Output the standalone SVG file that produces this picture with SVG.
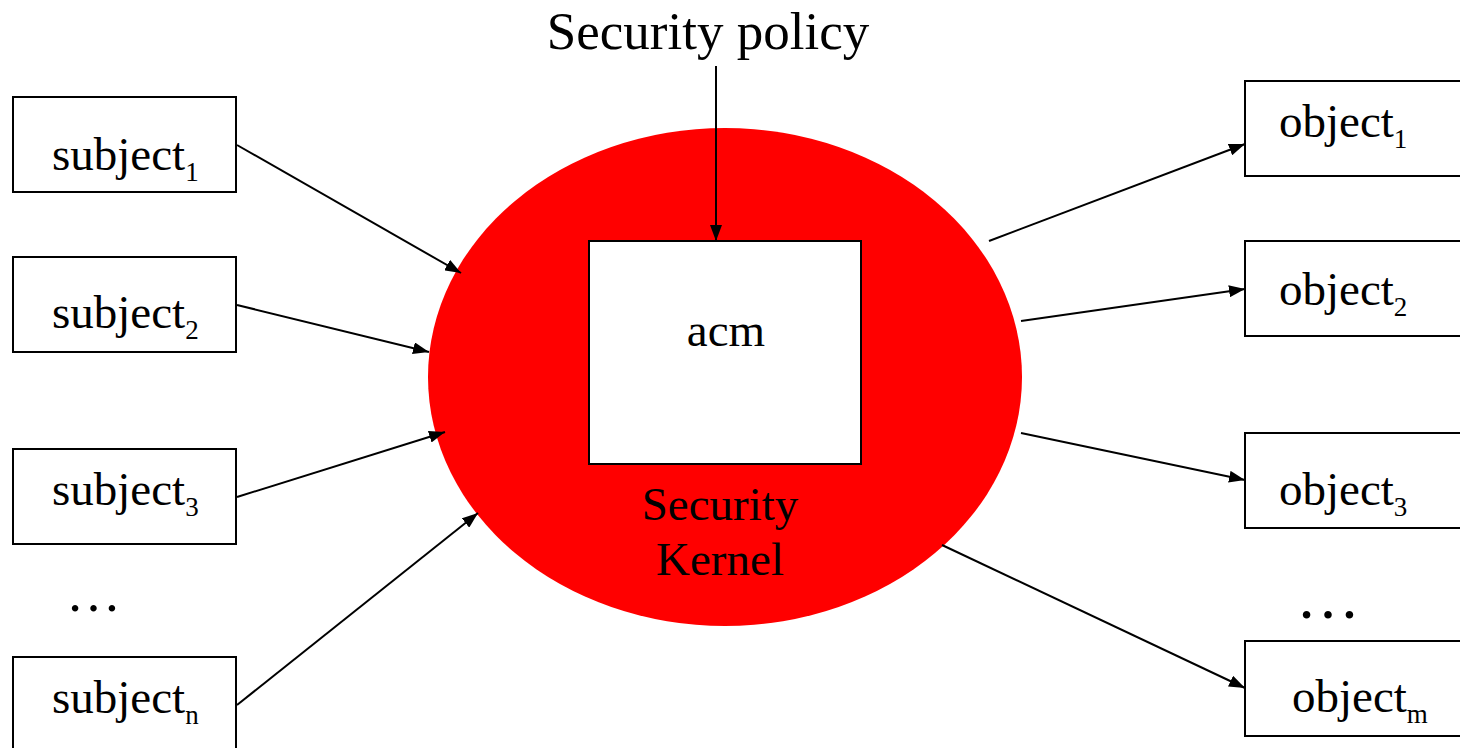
<svg xmlns="http://www.w3.org/2000/svg" width="1460" height="748" viewBox="0 0 1460 748">
<style>
text{font-family:"Liberation Serif","Times New Roman",serif;fill:#000}
.lbl{font-size:47px}
.sub{font-size:27px}
.box{fill:#fff;stroke:#000;stroke-width:2}
.conn line{stroke:#000;stroke-width:2;marker-end:url(#ah)}
</style>
<defs>
<marker id="ah" markerUnits="userSpaceOnUse" markerWidth="16" markerHeight="12" refX="16" refY="6" orient="auto">
<path d="M0,0 L16,6 L0,12 Z" fill="#000"/>
</marker>
</defs>
<rect width="1460" height="748" fill="#fff"/>
<g id="kernel">
<ellipse cx="725" cy="377" rx="297" ry="249" fill="#ff0000"/>
<text class="lbl" x="720" y="520" text-anchor="middle">Security</text>
<text class="lbl" x="720" y="575" text-anchor="middle">Kernel</text>
</g>
<g id="acm">
<rect class="box" x="589" y="241" width="272" height="223"/>
<text class="lbl" x="726" y="346" text-anchor="middle">acm</text>
</g>
<g id="policy">
<text x="708" y="49" font-size="53" text-anchor="middle">Security policy</text>
</g>
<g id="subject1"><rect class="box" x="13" y="97" width="223" height="95"/><text class="lbl" x="52" y="170">subject<tspan class="sub" dy="11">1</tspan></text></g>
<g id="subject2"><rect class="box" x="13" y="257" width="223" height="95"/><text class="lbl" x="52" y="328">subject<tspan class="sub" dy="11">2</tspan></text></g>
<g id="subject3"><rect class="box" x="13" y="449" width="223" height="95"/><text class="lbl" x="52" y="505">subject<tspan class="sub" dy="11">3</tspan></text></g>
<g id="subjectdots"><text x="66" y="611" font-size="55">…</text></g>
<g id="subjectn"><rect class="box" x="13" y="657" width="223" height="100"/><text class="lbl" x="52" y="713">subject<tspan class="sub" dy="11">n</tspan></text></g>
<g id="object1"><rect class="box" x="1245" y="81" width="230" height="95"/><text class="lbl" x="1279" y="137">object<tspan class="sub" dy="11">1</tspan></text></g>
<g id="object2"><rect class="box" x="1245" y="241" width="230" height="95"/><text class="lbl" x="1279" y="305">object<tspan class="sub" dy="11">2</tspan></text></g>
<g id="object3"><rect class="box" x="1245" y="433" width="230" height="95"/><text class="lbl" x="1279" y="505">object<tspan class="sub" dy="11">3</tspan></text></g>
<g id="objectdots"><text x="1296" y="618" font-size="64">…</text></g>
<g id="objectm"><rect class="box" x="1245" y="641" width="230" height="95"/><text class="lbl" x="1292" y="712">object<tspan class="sub" dy="11">m</tspan></text></g>
<g id="connectors" class="conn">
<line x1="716" y1="66" x2="716" y2="241"/>
<line x1="237" y1="145" x2="461" y2="273"/>
<line x1="237" y1="305" x2="429" y2="352"/>
<line x1="237" y1="497" x2="445" y2="432"/>
<line x1="237" y1="705" x2="478" y2="513"/>
<line x1="989" y1="241" x2="1245" y2="144"/>
<line x1="1021" y1="321" x2="1245" y2="289"/>
<line x1="1021" y1="433" x2="1245" y2="480"/>
<line x1="942" y1="545" x2="1245" y2="688"/>
</g>
</svg>
